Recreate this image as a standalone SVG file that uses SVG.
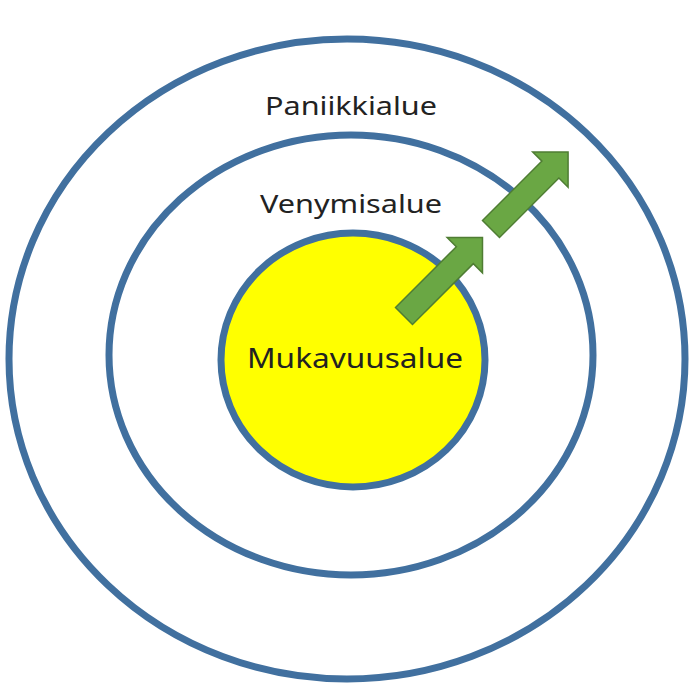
<svg xmlns="http://www.w3.org/2000/svg" width="690" height="691" viewBox="0 0 690 691">
<defs>
<style>
.ring{fill:none;stroke:#41709f;stroke-width:7}
.lbl{font-family:"Noto Sans","Open Sans",sans-serif;fill:#222;text-anchor:middle}
.arrow{fill:#6aa744;stroke:#4f7d33;stroke-width:1.5;stroke-linejoin:miter}
</style>
</defs>
<rect width="690" height="691" fill="#fff"/>
<g id="paniikkialue">
<ellipse class="ring" cx="347" cy="359" rx="338" ry="320"/>
<text class="lbl" x="351" y="115" font-size="26" textLength="172" lengthAdjust="spacingAndGlyphs">Paniikkialue</text>
</g>
<g id="venymisalue">
<ellipse class="ring" cx="351" cy="355" rx="242" ry="220"/>
<text class="lbl" x="351" y="213" font-size="26" textLength="182" lengthAdjust="spacingAndGlyphs">Venymisalue</text>
</g>
<g id="mukavuusalue">
<ellipse cx="353" cy="360" rx="132" ry="127" fill="#ffff00" stroke="#41709f" stroke-width="7"/>
<text class="lbl" x="355" y="368" font-size="28" textLength="216" lengthAdjust="spacingAndGlyphs">Mukavuusalue</text>
</g>
<g id="connectors">
<path class="arrow" transform="translate(404 316) rotate(-45)" d="M0,-12 H86 V-25 L111,0 L86,25 V12 H0 Z"/>
<path class="arrow" transform="translate(491 229) rotate(-45)" d="M0,-12 H84 V-25 L109,0 L84,25 V12 H0 Z"/>
</g>
</svg>
